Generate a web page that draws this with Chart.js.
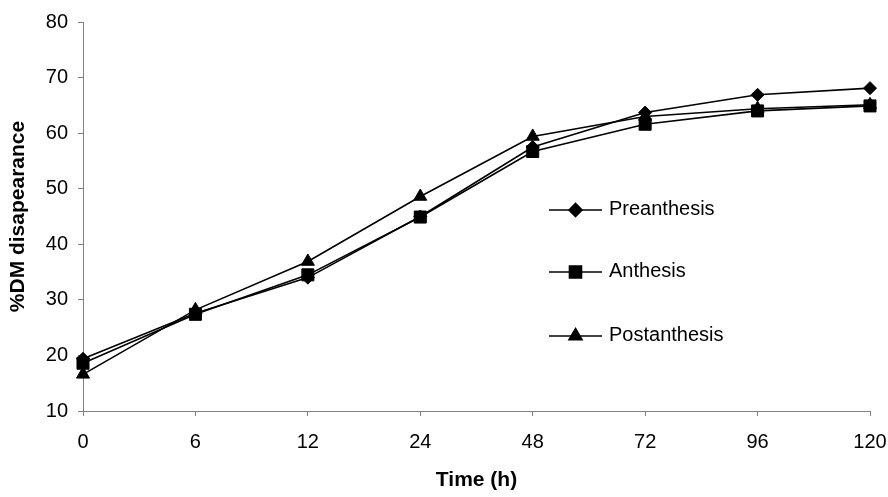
<!DOCTYPE html>
<html>
<head>
<meta charset="utf-8">
<script src="https://cdn.jsdelivr.net/npm/chart.js@4"></script>
<style>
  html, body { margin: 0; padding: 0; background: #fff; }
  #wrap { width: 888px; height: 497px; }
</style>
</head>
<body>
<div id="wrap"><canvas id="myChart" width="888" height="497"></canvas></div>
<script>
// time points (h) and % DM disappearance per stage
var hours = ["0", "6", "12", "24", "48", "72", "96", "120"];
var preanthesis = [19.4, 27.6, 34.0, 45.0, 57.5, 63.7, 66.9, 68.1];
var anthesis = [18.6, 27.4, 34.5, 44.9, 56.7, 61.6, 64.0, 64.9];
var postanthesis = [16.6, 28.2, 36.9, 48.6, 59.4, 63.0, 64.4, 65.1];
var yTicks = [10, 20, 30, 40, 50, 60, 70, 80];

var seriesNames = ["Preanthesis", "Anthesis", "Postanthesis"];
var seriesMarks = ["rectRot", "rect", "triangle"];
var seriesSizes = [6.5, 8.5, 7.5];

var FONT = "'Liberation Sans', Arial, sans-serif";

function makeSet(i, values) {
    return {
        label: seriesNames[i],
        data: values,
        borderColor: '#000',
        backgroundColor: '#000',
        borderWidth: 1.6,
        pointStyle: seriesMarks[i],
        pointRadius: seriesSizes[i],
        pointHoverRadius: seriesSizes[i],
        pointBorderWidth: 1,
        tension: 0,
        fill: false
    };
}

// legend drawn inside the plot: short line with marker, then label
var insideLegend = {
    id: 'insideLegend',
    afterDatasetsDraw: function(chart) {
        var ctx = chart.ctx;
        var rows = [210, 272, 336];
        ctx.save();
        for (var i = 0; i < seriesNames.length; i++) {
            var y = rows[i];
            ctx.strokeStyle = '#000';
            ctx.fillStyle = '#000';
            ctx.lineWidth = 1.6;
            ctx.beginPath();
            ctx.moveTo(549, y);
            ctx.lineTo(602, y);
            ctx.stroke();
            Chart.helpers.drawPoint(ctx, {
                pointStyle: seriesMarks[i], radius: seriesSizes[i], rotation: 0, borderWidth: 1
            }, 575.5, y);
            ctx.font = '20px ' + FONT;
            ctx.textBaseline = 'middle';
            ctx.textAlign = 'left';
            ctx.fillText(seriesNames[i], 609, y - 1);
        }
        ctx.restore();
    }
};

var ctx = document.getElementById('myChart').getContext('2d');
var myChart = new Chart(ctx, {
    type: 'line',
    data: {
        labels: hours,
        datasets: [
            makeSet(0, preanthesis),
            makeSet(1, anthesis),
            makeSet(2, postanthesis)
        ]
    },
    options: {
        responsive: false,
        animation: false,
        layout: { padding: { top: 22, right: 18, left: 0, bottom: 0 } },
        plugins: {
            legend: { display: false },
            tooltip: { enabled: false }
        },
        scales: {
            x: {
                type: 'category',
                offset: false,
                afterFit: function(s) { s.height = 86; s.paddingLeft = 0; s.paddingRight = 0; },
                border: { color: '#808080', width: 1 },
                grid: { drawOnChartArea: false, drawTicks: true, tickLength: 5, color: '#808080' },
                ticks: { color: '#000', padding: 14, maxRotation: 0, font: { family: FONT, size: 20 } },
                title: {
                    display: true, text: 'Time (h)', color: '#000',
                    font: { family: FONT, size: 21, weight: 'bold' },
                    padding: { top: 0, bottom: 4 }
                }
            },
            y: {
                min: 10,
                max: 80,
                afterFit: function(s) { s.width = 83; },
                afterBuildTicks: function(s) { s.ticks = yTicks.map(function(v) { return { value: v }; }); },
                border: { color: '#808080', width: 1 },
                grid: { drawOnChartArea: false, drawTicks: true, tickLength: 5, color: '#808080' },
                ticks: { color: '#000', padding: 10, font: { family: FONT, size: 20 } },
                title: {
                    display: true, text: '%DM disapearance', color: '#000',
                    font: { family: FONT, size: 21, weight: 'bold' },
                    padding: { top: 6, bottom: 0 }
                }
            }
        }
    },
    plugins: [insideLegend]
});
</script>
</body>
</html>
